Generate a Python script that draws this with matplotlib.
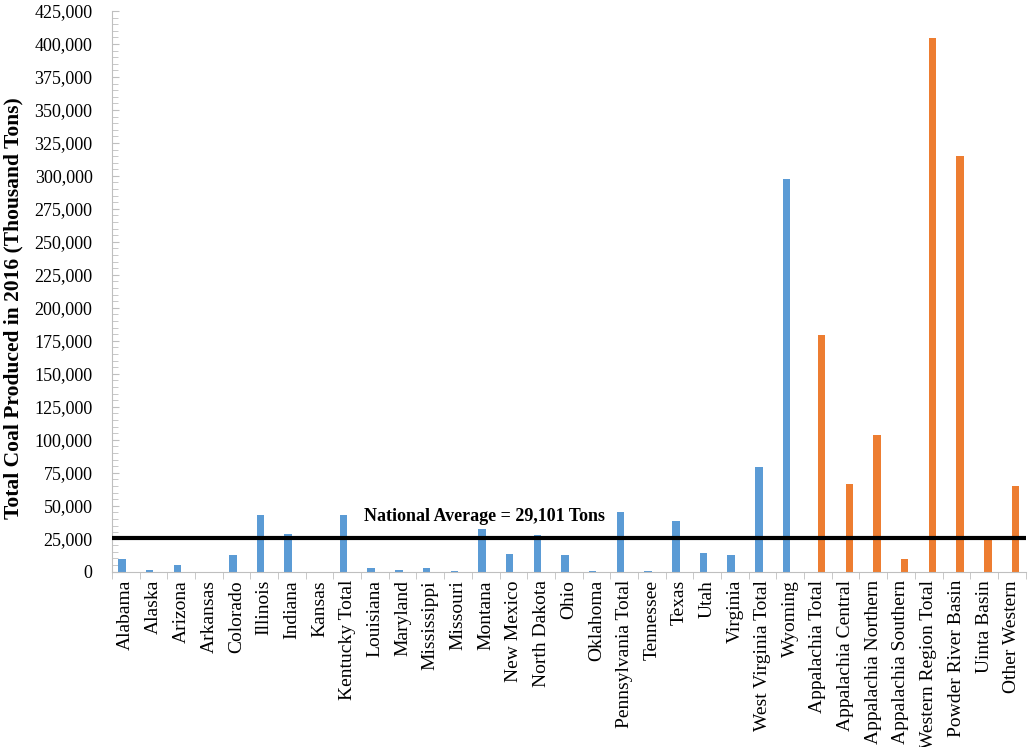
import numpy as np
import matplotlib
matplotlib.use("Agg")
import matplotlib.pyplot as plt
from matplotlib.ticker import FuncFormatter, MultipleLocator

states = ["Alabama", "Alaska", "Arizona", "Arkansas", "Colorado", "Illinois",
          "Indiana", "Kansas", "Kentucky Total", "Louisiana", "Maryland",
          "Mississippi", "Missouri", "Montana", "New Mexico", "North Dakota",
          "Ohio", "Oklahoma", "Pennsylvania Total", "Tennessee", "Texas",
          "Utah", "Virginia", "West Virginia Total", "Wyoming"]
state_values = [9600, 1000, 5000, 0, 12700, 43300, 28600, 0, 42800, 2600,
                1500, 2700, 200, 32200, 13200, 27900, 12400, 600, 45500, 700,
                38700, 14000, 12700, 79600, 297700]

regions = ["Appalachia Total", "Appalachia Central", "Appalachia Northern",
           "Appalachia Southern", "Western Region Total", "Powder River Basin",
           "Uinta Basin", "Other Western"]
region_values = [179600, 66800, 103700, 9400, 404800, 314800, 25000, 65000]

avg_line = 25600
avg_label = "National Average = 29,101 Tons"

plt.rcParams["font.family"] = ["Liberation Serif", "DejaVu Serif"]

fig = plt.figure(figsize=(10.3, 7.47), dpi=100)
ax = fig.add_axes([0.1087, 0.2347, 0.887, 0.7506])

labels = states + regions
width = 0.27
# two series in an Excel-style cluster: blue slot left, orange slot right
x_states = np.arange(len(states)) - width / 2
x_regions = np.arange(len(states), len(labels)) + width / 2
ax.bar(x_states, state_values, width=width, color="#5B9BD5", zorder=2)
ax.bar(x_regions, region_values, width=width, color="#ED7D31", zorder=2)

ax.axhline(avg_line, color="black", linewidth=3, zorder=3)
ax.text(12.95, avg_line + 10000, avg_label, fontsize=13, fontweight="bold",
        ha="center", va="bottom")

ax.set_xlim(-0.5, len(labels) - 0.5)
ax.set_ylim(0, 425000)
ax.yaxis.set_major_locator(MultipleLocator(25000))
ax.yaxis.set_minor_locator(MultipleLocator(5000))
ax.yaxis.set_major_formatter(FuncFormatter(lambda v, p: "{:,.0f}".format(v)))
ax.set_xticks(np.arange(len(labels)))
ax.set_xticklabels(labels, rotation=90, fontsize=14)
ax.set_xticks(np.arange(len(labels) + 1) - 0.5, minor=True)
ax.tick_params(axis="x", which="major", length=0, pad=6)
ax.tick_params(axis="x", which="minor", length=5, color="#BFBFBF",
               direction="out")
ax.tick_params(axis="y", which="both", direction="in", color="#BFBFBF",
               labelsize=13, pad=14)
ax.tick_params(axis="y", which="major", length=5)
ax.tick_params(axis="y", which="minor", length=4)

for side in ["top", "right"]:
    ax.spines[side].set_visible(False)
for side in ["left", "bottom"]:
    ax.spines[side].set_color("#BFBFBF")

ax.set_ylabel("Total Coal Produced in 2016 (Thousand Tons)", fontsize=15.5,
              fontweight="bold")
ax.yaxis.set_label_coords(-0.097, 0.47)

fig.savefig("out.png", dpi=100)
